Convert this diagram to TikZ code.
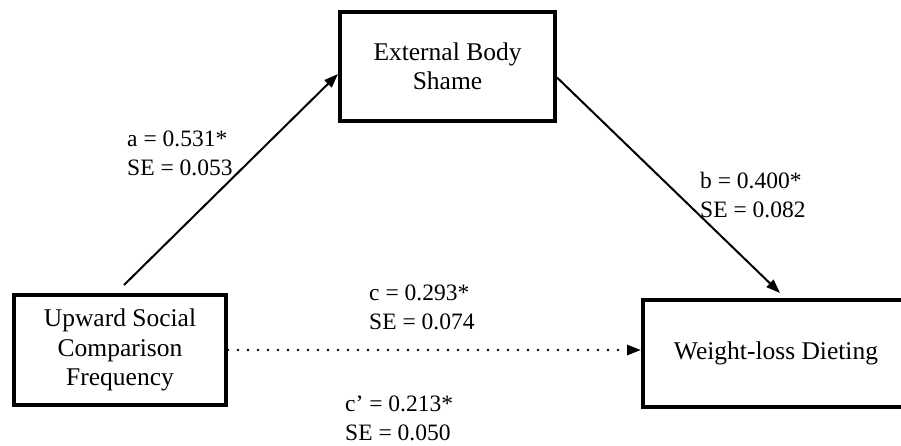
\documentclass[tikz,border=0pt]{standalone}
\usepackage{fontspec}
\setmainfont{Liberation Serif}
\usetikzlibrary{arrows.meta,positioning}

\begin{document}
\begin{tikzpicture}[x=1pt,y=-1pt,>={Triangle[length=14pt,width=10pt]},
    var/.style={draw,line width=4pt,align=center,inner sep=0pt,font=\fontsize{25.5}{29.5}\selectfont},
    coef/.style={anchor=west,align=left,inner sep=0pt,font=\fontsize{23.5}{28.5}\selectfont},
    effect/.style={->,line width=2pt}]
  \useasboundingbox (0,0) rectangle (901,445);

  \node[var,minimum width=212pt,minimum height=110pt] (usc) at (120,350) {Upward Social\\Comparison\\Frequency};
  \node[var,minimum width=215pt,minimum height=109pt] (ebs) [above right=170pt and 110pt of usc] {External Body\\Shame};
  \node[var,minimum width=266pt,minimum height=107pt] (wld) [right=413pt of usc,yshift=-3.5pt] {Weight-loss Dieting};

  \node[coef] (la)  at (127,153.5) {a = 0.531*\\SE = 0.053};
  \node[coef] (lb)  at (700,195)   {b = 0.400*\\SE = 0.082};
  \node[coef] (lc)  at (369,307.5) {c = 0.293*\\SE = 0.074};
  \node[coef] (lcp) at (345,418.5) {c' = 0.213*\\SE = 0.050};

  \path ([shift={(4pt,8pt)}]usc.north) edge[effect] ([yshift=-7.5pt]ebs.west)
        ([yshift=-11pt]ebs.east)        edge[effect] ([shift={(4pt,5pt)}]wld.north)
        (usc.east) edge[effect,line width=2.8pt,line cap=round,dash pattern=on 0pt off 10pt] (usc.east -| wld.west);
\end{tikzpicture}
\end{document}
